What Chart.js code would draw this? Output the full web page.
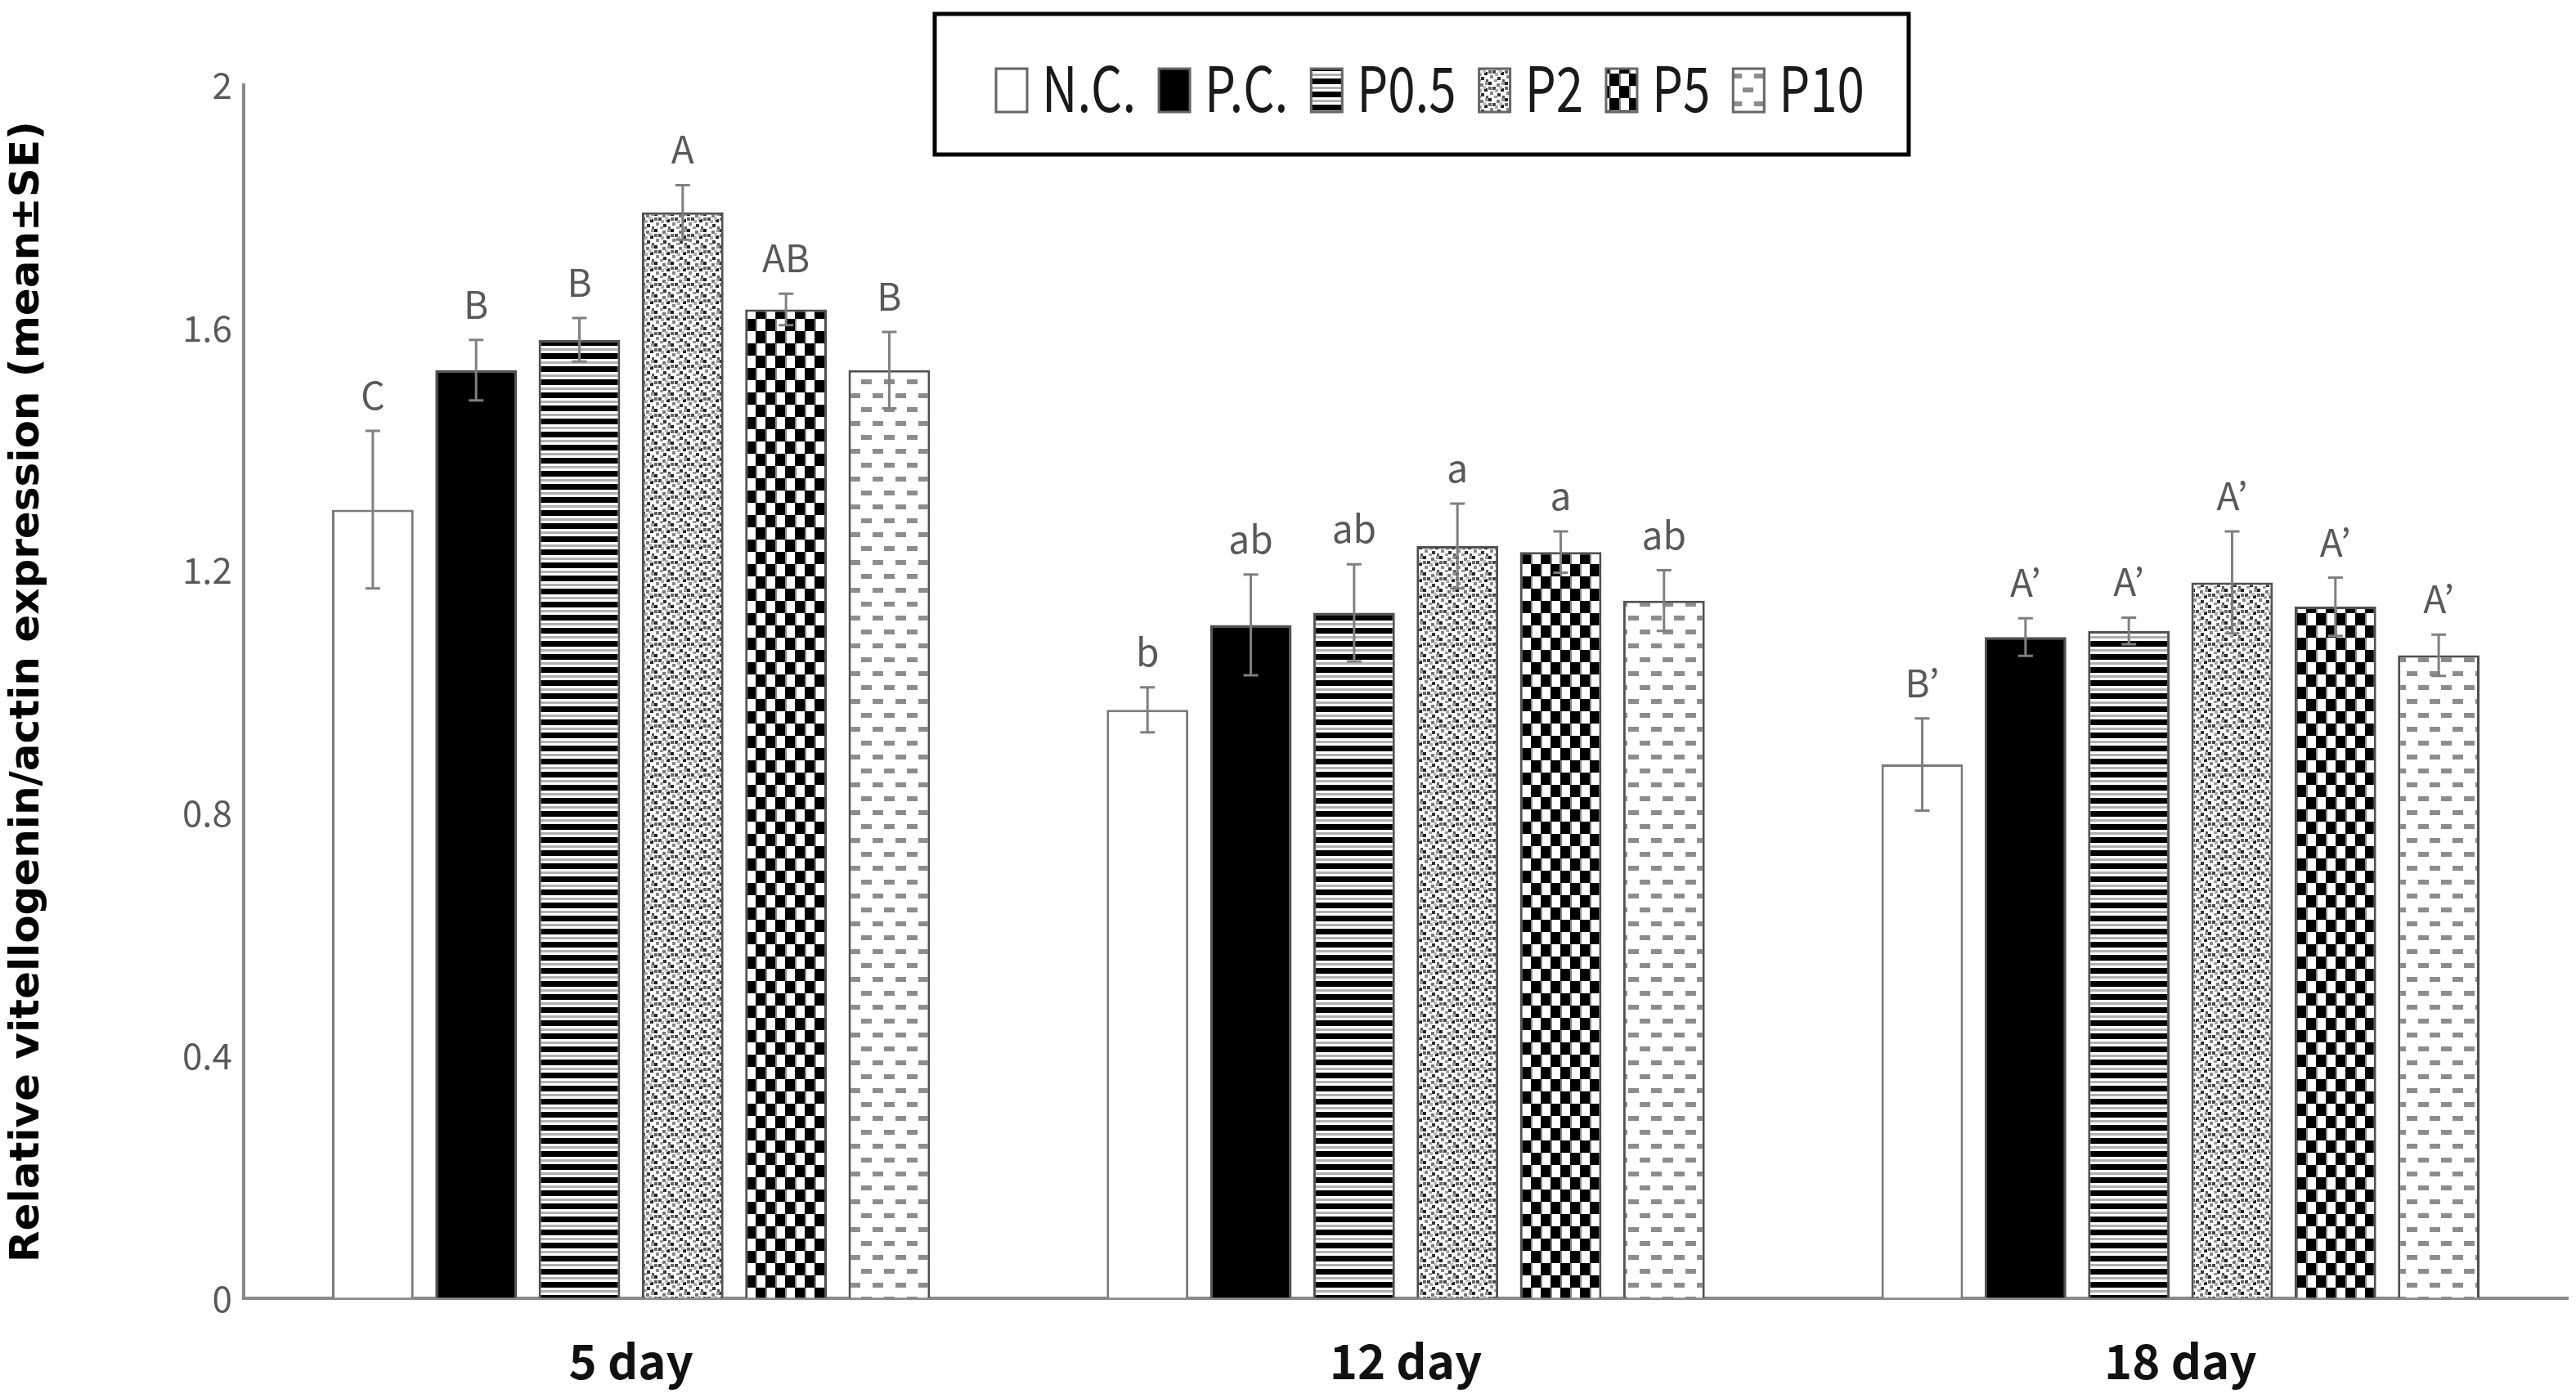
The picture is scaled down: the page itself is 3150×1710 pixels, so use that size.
<!DOCTYPE html>
<html>
<head>
<meta charset="utf-8">
<script src="https://cdn.jsdelivr.net/npm/chart.js@4/dist/chart.umd.min.js"></script>
<style>
  body { margin: 0; background: #fff; }
  #wrap { width: 3150px; height: 1710px; }
</style>
</head>
<body>
<div id="wrap"><canvas id="c" width="3150" height="1710"></canvas></div>
<script>
// categories and groups
const days = ["5 day", "12 day", "18 day"];
const groups = ["N.C.", "P.C.", "P0.5", "P2", "P5", "P10"];

// means (5 day, 12 day, 18 day)
const nc = [1.30, 0.97, 0.88];
const pc = [1.53, 1.11, 1.09];
const p05 = [1.58, 1.13, 1.10];
const p2 = [1.79, 1.24, 1.18];
const p5 = [1.63, 1.23, 1.14];
const p10 = [1.53, 1.15, 1.06];

// standard errors
const ncSE = [0.13, 0.037, 0.076];
const pcSE = [0.05, 0.083, 0.031];
const p05SE = [0.036, 0.08, 0.022];
const p2SE = [0.045, 0.07, 0.084];
const p5SE = [0.026, 0.034, 0.048];
const p10SE = [0.063, 0.05, 0.034];

// significance letters
const ncSig = ["C", "b", "B\u2019"];
const pcSig = ["B", "ab", "A\u2019"];
const p05Sig = ["B", "ab", "A\u2019"];
const p2Sig = ["A", "a", "A\u2019"];
const p5Sig = ["AB", "a", "A\u2019"];
const p10Sig = ["B", "ab", "A\u2019"];

const yTicks = ["0", "0.4", "0.8", "1.2", "1.6", "2"];

const means = [nc, pc, p05, p2, p5, p10];
const ses = [ncSE, pcSE, p05SE, p2SE, p5SE, p10SE];
const sigs = [ncSig, pcSig, p05Sig, p2Sig, p5Sig, p10Sig];

const FONT = '"Noto Sans CJK KR", "Noto Sans", sans-serif';
const GRAY = "#595959";

// pattern fills
function makePattern(w, h, draw) {
  const c = document.createElement("canvas");
  c.width = w;
  c.height = h;
  const g = c.getContext("2d");
  g.fillStyle = "#fff";
  g.fillRect(0, 0, w, h);
  draw(g);
  return g.createPattern(c, "repeat");
}

const fills = [
  "#ffffff",
  "#000000",
  makePattern(16, 16, (g) => {
    g.fillStyle = "#000";
    g.fillRect(0, 0, 16, 7);
    g.fillStyle = "#b0b0b0";
    g.fillRect(0, 10, 16, 3);
  }),
  makePattern(20, 20, (g) => {
    const cells = [
      [0, 0, "#222"], [10, 2, "#777"], [5, 6, "#444"], [15, 8, "#222"],
      [2, 12, "#888"], [11, 14, "#333"], [7, 17, "#999"], [17, 17, "#555"],
      [16, 0, "#999"], [8, 9, "#aaa"], [0, 6, "#666"], [13, 5, "#bbb"],
    ];
    cells.forEach(([x, y, col]) => {
      g.fillStyle = col;
      g.fillRect(x, y, 4, 4);
    });
  }),
  makePattern(24, 30, (g) => {
    g.fillStyle = "#000";
    g.fillRect(0, 0, 12, 15);
    g.fillRect(12, 15, 12, 15);
    g.fillStyle = "#888";
    g.fillRect(12, 0, 2, 15);
    g.fillRect(0, 15, 2, 15);
  }),
  makePattern(28, 34, (g) => {
    g.fillStyle = "#8c8c8c";
    g.fillRect(3, 5, 13, 6);
    g.fillRect(17, 22, 13, 6);
    g.fillRect(-11, 22, 13, 6);
  }),
];

const errorBars = {
  id: "errorBars",
  afterDatasetsDraw(chart) {
    const ctx = chart.ctx;
    const y = chart.scales.y;
    ctx.save();
    chart.data.datasets.forEach((ds, i) => {
      const meta = chart.getDatasetMeta(i);
      meta.data.forEach((bar, j) => {
        const m = means[i][j];
        const s = ses[i][j];
        const top = y.getPixelForValue(m + s);
        const bot = y.getPixelForValue(m - s);
        ctx.strokeStyle = "#808080";
        ctx.lineWidth = 3;
        ctx.beginPath();
        ctx.moveTo(bar.x, bot);
        ctx.lineTo(bar.x, top);
        ctx.moveTo(bar.x - 9, top);
        ctx.lineTo(bar.x + 9, top);
        ctx.moveTo(bar.x - 9, bot);
        ctx.lineTo(bar.x + 9, bot);
        ctx.stroke();
        ctx.fillStyle = GRAY;
        ctx.font = "46px " + FONT;
        ctx.textAlign = "center";
        ctx.textBaseline = "alphabetic";
        ctx.fillText(sigs[i][j], bar.x, top - 26);
      });
    });
    ctx.restore();
  },
};

// boxed legend, text a bit condensed like the original
const boxLegend = {
  id: "boxLegend",
  afterDraw(chart) {
    const ctx = chart.ctx;
    const squeeze = 0.79;
    ctx.save();
    ctx.strokeStyle = "#000";
    ctx.lineWidth = 5;
    ctx.strokeRect(1143, 17, 1191, 172);
    ctx.font = "76px " + FONT;
    ctx.textBaseline = "alphabetic";
    ctx.textAlign = "left";
    let x = 1218;
    groups.forEach((name, i) => {
      ctx.fillStyle = fills[i];
      ctx.fillRect(x, 84, 38, 53);
      ctx.strokeStyle = "#666";
      ctx.lineWidth = 3;
      ctx.strokeRect(x, 84, 38, 53);
      x += 38 + 18;
      ctx.fillStyle = "#1a1a1a";
      ctx.save();
      ctx.translate(x, 137);
      ctx.scale(squeeze, 1);
      ctx.fillText(name, 0, 0);
      ctx.restore();
      x += ctx.measureText(name).width * squeeze + 28;
    });
    ctx.restore();
  },
};

new Chart(document.getElementById("c"), {
  type: "bar",
  data: {
    labels: days,
    datasets: groups.map((g, i) => ({
      label: g,
      data: means[i],
      backgroundColor: fills[i],
      borderColor: i === 0 ? "#7a7a7a" : "#505050",
      borderWidth: 3,
      barPercentage: 0.79,
      categoryPercentage: 0.8,
    })),
  },
  options: {
    responsive: false,
    devicePixelRatio: 1,
    animation: false,
    layout: { padding: { left: 0, right: 10, top: 104, bottom: 0 } },
    plugins: {
      legend: { display: false },
      tooltip: { enabled: false },
    },
    scales: {
      x: {
        grid: { drawOnChartArea: false, drawTicks: false },
        border: { display: true, color: "#8a8a8a", width: 4 },
        ticks: {
          color: "#111",
          font: { family: FONT, size: 58, weight: "bold" },
          padding: 42,
        },
        afterFit(s) { s.height = 122; },
      },
      y: {
        min: 0,
        max: 2,
        grid: { drawOnChartArea: false, drawTicks: false },
        border: { display: true, color: "#8a8a8a", width: 4 },
        ticks: {
          stepSize: 0.4,
          color: GRAY,
          padding: 14,
          font: { family: FONT, size: 44 },
          callback: (v, idx) => yTicks[idx],
        },
        title: {
          display: true,
          text: "Relative vitellogenin/actin expression (mean\u00b1SE)",
          color: "#000",
          font: { family: '"DejaVu Sans", sans-serif', size: 50, weight: "bold" },
          padding: { top: 4, bottom: 0 },
        },
        afterFit(s) { s.width = 298; },
      },
    },
  },
  plugins: [errorBars, boxLegend],
});
</script>
</body>
</html>
